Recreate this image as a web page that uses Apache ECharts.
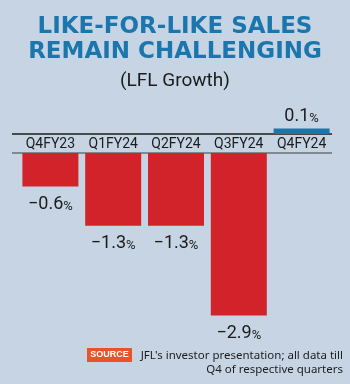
<!DOCTYPE html>
<html>
<head>
<meta charset="utf-8">
<script src="https://cdn.jsdelivr.net/npm/echarts@6/dist/echarts.min.js"></script>
<style>
html, body { margin: 0; padding: 0; background: #c6d4e4; }
#chart { width: 350px; height: 384px; }
</style>
</head>
<body>
<div id="chart"></div>
<script>
// data
var quarters = ["Q4FY23", "Q1FY24", "Q2FY24", "Q3FY24", "Q4FY24"];
var lflGrowth = [-0.6, -1.3, -1.3, -2.9, 0.1];

var posValues = lflGrowth.map(function (v) { return v > 0 ? v : "-"; });
var negValues = lflGrowth.map(function (v) { return v < 0 ? v : "-"; });

var narrow = "'Roboto', sans-serif";

function pctLabel(p) {
    var v = p.value;
    var s = v < 0 ? "\u2212" + Math.abs(v).toFixed(1) : v.toFixed(1);
    return "{n|" + s + "}{p|%}";
}

var labelRich = {
    n: { fontFamily: narrow, fontSize: 18, color: "#1c1c1c" },
    p: { fontFamily: narrow, fontSize: 13, color: "#1c1c1c", padding: [4, 0, 0, 0] }
};

var chart = echarts.init(document.getElementById("chart"));

var option = {
    backgroundColor: "#c6d4e4",
    animation: false,
    title: [
        {
            text: "LIKE-FOR-LIKE SALES\nREMAIN CHALLENGING",
            left: "center",
            top: 10,
            textStyle: {
                fontFamily: "'DejaVu Sans', sans-serif",
                fontWeight: "bold",
                fontSize: 23,
                lineHeight: 25,
                color: "#1a76ad"
            }
        },
        {
            text: "(LFL Growth)",
            left: "center",
            top: 67,
            textStyle: {
                fontFamily: narrow,
                fontWeight: "normal",
                fontSize: 19,
                color: "#1c1c1c"
            }
        }
    ],
    grid: [
        { left: 19, right: 17, top: 106, height: 28 },
        { left: 19, right: 17, top: 153, height: 168 }
    ],
    xAxis: [
        {
            gridIndex: 0, type: "category", data: quarters,
            axisLine: { show: false }, axisTick: { show: false }, axisLabel: { show: false }
        },
        {
            gridIndex: 1, type: "category", data: quarters, position: "top",
            axisLine: { show: false }, axisTick: { show: false },
            axisLabel: { interval: 0, fontFamily: narrow, fontSize: 14, color: "#1c1c1c", margin: 2 }
        }
    ],
    yAxis: [
        { gridIndex: 0, type: "value", min: 0, max: 0.5, show: false },
        { gridIndex: 1, type: "value", min: -3, max: 0, show: false }
    ],
    series: [
        {
            type: "bar", xAxisIndex: 0, yAxisIndex: 0, data: posValues,
            barWidth: 56, itemStyle: { color: "#1a76ad" },
            label: { show: true, position: "top", distance: 3, formatter: pctLabel, rich: labelRich }
        },
        {
            type: "bar", xAxisIndex: 1, yAxisIndex: 1, data: negValues,
            barWidth: 56, itemStyle: { color: "#d2232a" },
            label: { show: true, position: "bottom", distance: 9, formatter: pctLabel, rich: labelRich }
        }
    ],
    graphic: [
        { type: "line", shape: { x1: 12, y1: 134, x2: 332, y2: 134 }, style: { stroke: "#1c1c1c", lineWidth: 1.5 } },
        { type: "line", shape: { x1: 12, y1: 153, x2: 332, y2: 153 }, style: { stroke: "#6a6f75", lineWidth: 1.5 } },
        { type: "rect", shape: { x: 87, y: 348, width: 45, height: 14 }, style: { fill: "#e8532a" } },
        {
            type: "text", x: 109.5, y: 355,
            style: { text: "SOURCE", fill: "#ffffff", font: "bold 9px 'Liberation Sans', sans-serif", align: "center", verticalAlign: "middle" }
        },
        {
            type: "text", x: 343, y: 356,
            style: { text: "JFL's investor presentation; all data till", fill: "#1c1c1c", font: "11.5px 'Noto Sans', sans-serif", align: "right", verticalAlign: "middle" }
        },
        {
            type: "text", x: 343, y: 370,
            style: { text: "Q4 of respective quarters", fill: "#1c1c1c", font: "11.5px 'Noto Sans', sans-serif", align: "right", verticalAlign: "middle" }
        }
    ]
};

chart.setOption(option);
</script>
</body>
</html>
